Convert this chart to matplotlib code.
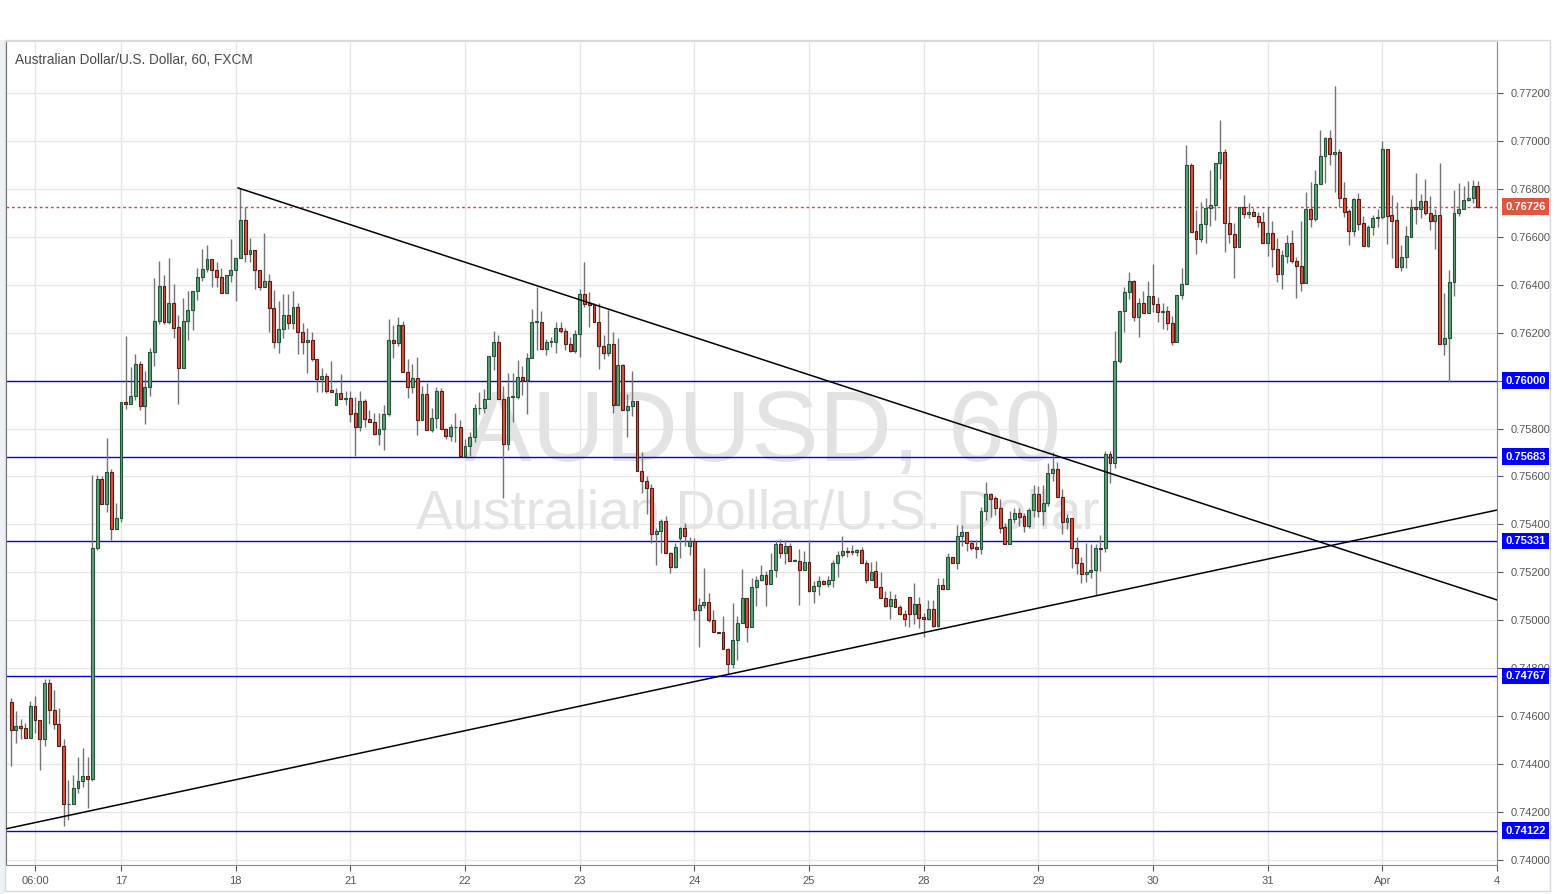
import numpy as np
import matplotlib.pyplot as plt
import matplotlib.transforms as mtransforms
from matplotlib.patches import Rectangle

# AUDUSD hourly candles (bar 0 = 17th 00:00)
opens = [
    0.74659, 0.74541, 0.74558, 0.74549, 0.74510, 0.74643, 0.74583, 0.74504, 0.74739, 0.74625, 0.74566, 0.74474,
    0.74232, 0.74232, 0.74299, 0.74330, 0.74351, 0.74337, 0.75302, 0.75590, 0.75484, 0.75619, 0.75380,
    # 17
    0.75426, 0.75910, 0.75901, 0.75935, 0.76070, 0.75896, 0.75972, 0.76120, 0.76249, 0.76395, 0.76246, 0.76323,
    0.76224, 0.76054, 0.76249, 0.76295, 0.76374, 0.76433, 0.76466, 0.76506, 0.76460, 0.76431, 0.76364, 0.76439,
    # 18
    0.76460, 0.76510, 0.76669, 0.76527, 0.76545, 0.76460, 0.76392, 0.76414, 0.76302, 0.76160, 0.76214, 0.76273,
    0.76239, 0.76307, 0.76204, 0.76160, 0.76168, 0.76092, 0.76008, 0.76018, 0.75961, 0.75900, 0.75947, 0.75925,
    # 21
    0.75928, 0.75864, 0.75808, 0.75913, 0.75841, 0.75829, 0.75779, 0.75797, 0.75862, 0.76168, 0.76158, 0.76232,
    0.76035, 0.75975, 0.76010, 0.75834, 0.75943, 0.75793, 0.75843, 0.75956, 0.75800, 0.75770, 0.75806, 0.75806,
    # 22
    0.75684, 0.75726, 0.75763, 0.75884, 0.75884, 0.75922, 0.76101, 0.76161, 0.75925, 0.75737, 0.75932, 0.75932,
    0.76014, 0.76001, 0.76093, 0.76245, 0.76245, 0.76131, 0.76160, 0.76160, 0.76218, 0.76206, 0.76151, 0.76125,
    # 23
    0.76193, 0.76361, 0.76323, 0.76316, 0.76243, 0.76145, 0.76114, 0.76152, 0.75897, 0.76064, 0.75876, 0.75893,
    0.75915, 0.75622, 0.75581, 0.75551, 0.75360, 0.75374, 0.75416, 0.75280, 0.75221, 0.75342, 0.75384, 0.75312,
    # 24
    0.75331, 0.75043, 0.75064, 0.75076, 0.75002, 0.74950, 0.74950, 0.74879, 0.74817, 0.74918, 0.74988, 0.75092,
    0.74971, 0.75138, 0.75167, 0.75188, 0.75151, 0.75209, 0.75319, 0.75280, 0.75311, 0.75249, 0.75249, 0.75208,
    # 25
    0.75245, 0.75124, 0.75144, 0.75164, 0.75151, 0.75169, 0.75241, 0.75271, 0.75289, 0.75289, 0.75286, 0.75293,
    0.75238, 0.75167, 0.75206, 0.75140, 0.75092, 0.75061, 0.75089, 0.75057, 0.75025, 0.75097, 0.75025, 0.75067,
    # 28
    0.75014, 0.75004, 0.75047, 0.74976, 0.75146, 0.75129, 0.75263, 0.75238, 0.75350, 0.75369, 0.75321, 0.75306,
    0.75299, 0.75456, 0.75527, 0.75509, 0.75467, 0.75388, 0.75317, 0.75423, 0.75447, 0.75435, 0.75395, 0.75460,
    # 29
    0.75527, 0.75454, 0.75488, 0.75613, 0.75630, 0.75513, 0.75412, 0.75426, 0.75301, 0.75237, 0.75193, 0.75200,
    0.75210, 0.75300, 0.75300, 0.75693, 0.75658, 0.76082, 0.76291, 0.76369, 0.76416, 0.76267, 0.76325, 0.76281,
    # 30
    0.76353, 0.76318, 0.76285, 0.76291, 0.76239, 0.76163, 0.76357, 0.76402, 0.76900, 0.76624, 0.76592, 0.76652,
    0.76722, 0.76733, 0.76907, 0.76952, 0.76656, 0.76610, 0.76556, 0.76723, 0.76694, 0.76702, 0.76688, 0.76660,
    # 31
    0.76573, 0.76615, 0.76548, 0.76443, 0.76521, 0.76573, 0.76500, 0.76480, 0.76406, 0.76715, 0.76673, 0.76819,
    0.76936, 0.77011, 0.76944, 0.76952, 0.76760, 0.76707, 0.76625, 0.76757, 0.76656, 0.76563, 0.76641, 0.76678,
    # Apr
    0.76681, 0.76965, 0.76691, 0.76670, 0.76475, 0.76514, 0.76600, 0.76725, 0.76718, 0.76749, 0.76698, 0.76667,
    0.76691, 0.76151, 0.76176, 0.76410, 0.76698, 0.76718, 0.76753, 0.76760, 0.76812,
]
highs = [
    0.74677, 0.74622, 0.74588, 0.74570, 0.74663, 0.74684, 0.74583, 0.74755, 0.74755, 0.74709, 0.74633, 0.74505,
    0.74334, 0.74355, 0.74430, 0.74469, 0.74430, 0.75606, 0.75606, 0.75604, 0.75762, 0.75630, 0.75491,
    0.75910, 0.76186, 0.76057, 0.76113, 0.76082, 0.76040, 0.76135, 0.76428, 0.76499, 0.76441, 0.76512, 0.76405,
    0.76274, 0.76346, 0.76374, 0.76374, 0.76469, 0.76549, 0.76566, 0.76506, 0.76494, 0.76469, 0.76439, 0.76591,
    0.76510, 0.76803, 0.76726, 0.76594, 0.76545, 0.76460, 0.76616, 0.76444, 0.76378, 0.76332, 0.76363, 0.76363,
    0.76374, 0.76323, 0.76239, 0.76221, 0.76202, 0.76092, 0.76053, 0.76031, 0.76082, 0.75968, 0.76028, 0.75958,
    0.75958, 0.75933, 0.75956, 0.75925, 0.75877, 0.75866, 0.75866, 0.75898, 0.76256, 0.76232, 0.76265, 0.76249,
    0.76090, 0.76069, 0.76097, 0.75978, 0.75989, 0.75884, 0.75973, 0.75968, 0.75802, 0.75818, 0.75863, 0.75836,
    0.75755, 0.75784, 0.75902, 0.75953, 0.75964, 0.76101, 0.76207, 0.76192, 0.75978, 0.76033, 0.76033, 0.76086,
    0.76061, 0.76114, 0.76297, 0.76391, 0.76292, 0.76172, 0.76181, 0.76245, 0.76245, 0.76218, 0.76181, 0.76211,
    0.76382, 0.76495, 0.76370, 0.76323, 0.76325, 0.76191, 0.76295, 0.76203, 0.76177, 0.76070, 0.75943, 0.76039,
    0.75915, 0.75701, 0.75602, 0.75569, 0.75384, 0.75423, 0.75435, 0.75286, 0.75321, 0.75391, 0.75405, 0.75349,
    0.75342, 0.75092, 0.75220, 0.75113, 0.75043, 0.74953, 0.75016, 0.74883, 0.75071, 0.75016, 0.75213, 0.75095,
    0.75176, 0.75183, 0.75231, 0.75206, 0.75280, 0.75333, 0.75338, 0.75336, 0.75322, 0.75255, 0.75297, 0.75290,
    0.75336, 0.75162, 0.75183, 0.75167, 0.75185, 0.75252, 0.75289, 0.75352, 0.75307, 0.75314, 0.75297, 0.75304,
    0.75251, 0.75245, 0.75247, 0.75203, 0.75122, 0.75122, 0.75108, 0.75064, 0.75043, 0.75097, 0.75154, 0.75099,
    0.75029, 0.75085, 0.75085, 0.75178, 0.75178, 0.75279, 0.75265, 0.75397, 0.75398, 0.75369, 0.75333, 0.75335,
    0.75474, 0.75579, 0.75533, 0.75519, 0.75505, 0.75405, 0.75454, 0.75467, 0.75467, 0.75447, 0.75470, 0.75565,
    0.75561, 0.75565, 0.75658, 0.75704, 0.75662, 0.75547, 0.75442, 0.75426, 0.75349, 0.75266, 0.75324, 0.75318,
    0.75318, 0.75356, 0.75706, 0.75706, 0.76207, 0.76291, 0.76392, 0.76455, 0.76420, 0.76344, 0.76374, 0.76416,
    0.76485, 0.76350, 0.76323, 0.76312, 0.76270, 0.76357, 0.76471, 0.76983, 0.76910, 0.76712, 0.76747, 0.76761,
    0.76879, 0.76907, 0.77087, 0.76966, 0.76726, 0.76656, 0.76723, 0.76773, 0.76740, 0.76719, 0.76705, 0.76702,
    0.76726, 0.76666, 0.76594, 0.76545, 0.76608, 0.76628, 0.76517, 0.76666, 0.76787, 0.76829, 0.76879, 0.77046,
    0.77018, 0.77046, 0.77229, 0.76966, 0.76830, 0.76718, 0.76764, 0.76784, 0.76686, 0.76650, 0.76691, 0.76714,
    0.76999, 0.76965, 0.76774, 0.76746, 0.76565, 0.76645, 0.76757, 0.76867, 0.76778, 0.76841, 0.76770, 0.76718,
    0.76910, 0.76367, 0.76461, 0.76795, 0.76826, 0.76812, 0.76834, 0.76839, 0.76832,
]
lows = [
    0.74394, 0.74487, 0.74504, 0.74510, 0.74510, 0.74531, 0.74377, 0.74476, 0.74569, 0.74548, 0.74474, 0.74143,
    0.74167, 0.74232, 0.74281, 0.74306, 0.74216, 0.74328, 0.75295, 0.75484, 0.75450, 0.75335, 0.75380,
    0.75412, 0.75882, 0.75901, 0.75921, 0.75879, 0.75821, 0.75937, 0.76063, 0.76235, 0.76235, 0.76235, 0.76177,
    0.75904, 0.76054, 0.76171, 0.76210, 0.76335, 0.76416, 0.76455, 0.76390, 0.76392, 0.76364, 0.76364, 0.76410,
    0.76334, 0.76510, 0.76497, 0.76497, 0.76384, 0.76377, 0.76392, 0.76204, 0.76138, 0.76117, 0.76177, 0.76214,
    0.76214, 0.76113, 0.76113, 0.76033, 0.76082, 0.75954, 0.75954, 0.75950, 0.75954, 0.75900, 0.75925, 0.75900,
    0.75827, 0.75685, 0.75791, 0.75808, 0.75829, 0.75773, 0.75731, 0.75711, 0.75854, 0.76094, 0.76144, 0.76035,
    0.75929, 0.75950, 0.75774, 0.75834, 0.75793, 0.75786, 0.75801, 0.75800, 0.75755, 0.75750, 0.75744, 0.75684,
    0.75684, 0.75684, 0.75744, 0.75862, 0.75864, 0.75922, 0.76043, 0.75925, 0.75509, 0.75711, 0.75826, 0.75925,
    0.75940, 0.75862, 0.76093, 0.76128, 0.76131, 0.76105, 0.76142, 0.76114, 0.76197, 0.76128, 0.76121, 0.76114,
    0.76097, 0.76309, 0.76225, 0.76243, 0.76047, 0.76089, 0.76104, 0.75864, 0.75897, 0.75876, 0.75766, 0.75854,
    0.75622, 0.75530, 0.75442, 0.75321, 0.75231, 0.75280, 0.75280, 0.75196, 0.75217, 0.75259, 0.75312, 0.75273,
    0.75001, 0.74890, 0.75050, 0.74994, 0.74950, 0.74946, 0.74879, 0.74776, 0.74800, 0.74835, 0.74988, 0.74911,
    0.74971, 0.75060, 0.75162, 0.75060, 0.75151, 0.75180, 0.75259, 0.75234, 0.75249, 0.75247, 0.75064, 0.75208,
    0.75117, 0.75074, 0.75106, 0.75146, 0.75138, 0.75138, 0.75182, 0.75263, 0.75263, 0.75272, 0.75268, 0.75238,
    0.75154, 0.75167, 0.75140, 0.75092, 0.75054, 0.75004, 0.75054, 0.75022, 0.74976, 0.74973, 0.74983, 0.74969,
    0.74932, 0.75001, 0.74973, 0.74973, 0.75129, 0.75129, 0.75238, 0.75213, 0.75310, 0.75290, 0.75294, 0.75259,
    0.75277, 0.75419, 0.75429, 0.75440, 0.75366, 0.75317, 0.75317, 0.75405, 0.75394, 0.75370, 0.75384, 0.75433,
    0.75433, 0.75398, 0.75477, 0.75583, 0.75513, 0.75359, 0.75381, 0.75220, 0.75193, 0.75154, 0.75161, 0.75175,
    0.75106, 0.75207, 0.75286, 0.75574, 0.75634, 0.76072, 0.76204, 0.76339, 0.76250, 0.76183, 0.76281, 0.76281,
    0.76288, 0.76246, 0.76214, 0.76211, 0.76149, 0.76163, 0.76339, 0.76402, 0.76622, 0.76527, 0.76580, 0.76576,
    0.76645, 0.76670, 0.76840, 0.76538, 0.76576, 0.76427, 0.76556, 0.76677, 0.76677, 0.76688, 0.76642, 0.76573,
    0.76521, 0.76473, 0.76413, 0.76381, 0.76489, 0.76489, 0.76343, 0.76375, 0.76406, 0.76640, 0.76667, 0.76819,
    0.76826, 0.76900, 0.76788, 0.76726, 0.76684, 0.76565, 0.76603, 0.76628, 0.76563, 0.76556, 0.76607, 0.76642,
    0.76673, 0.76570, 0.76513, 0.76475, 0.76458, 0.76471, 0.76600, 0.76653, 0.76680, 0.76693, 0.76628, 0.76549,
    0.76151, 0.76107, 0.75995, 0.76354, 0.76686, 0.76714, 0.76750, 0.76739, 0.76721,
]
closes = [
    0.74541, 0.74558, 0.74549, 0.74510, 0.74643, 0.74583, 0.74504, 0.74739, 0.74625, 0.74566, 0.74474, 0.74232,
    0.74234, 0.74299, 0.74330, 0.74351, 0.74337, 0.75302, 0.75590, 0.75484, 0.75619, 0.75380, 0.75426,
    0.75910, 0.75901, 0.75935, 0.76070, 0.75896, 0.75972, 0.76120, 0.76249, 0.76395, 0.76246, 0.76323, 0.76221,
    0.76054, 0.76249, 0.76295, 0.76374, 0.76433, 0.76466, 0.76506, 0.76460, 0.76431, 0.76364, 0.76439, 0.76460,
    0.76510, 0.76669, 0.76527, 0.76545, 0.76460, 0.76392, 0.76414, 0.76302, 0.76160, 0.76214, 0.76273, 0.76239,
    0.76307, 0.76204, 0.76160, 0.76168, 0.76092, 0.76008, 0.76018, 0.75958, 0.75954, 0.75947, 0.75925, 0.75929,
    0.75862, 0.75808, 0.75913, 0.75841, 0.75829, 0.75779, 0.75797, 0.75862, 0.76168, 0.76158, 0.76232, 0.76035,
    0.75975, 0.76010, 0.75834, 0.75943, 0.75793, 0.75843, 0.75956, 0.75800, 0.75770, 0.75806, 0.75808, 0.75684,
    0.75726, 0.75763, 0.75884, 0.75886, 0.75922, 0.76101, 0.76161, 0.75925, 0.75737, 0.75932, 0.75933, 0.76014,
    0.76001, 0.76093, 0.76245, 0.76246, 0.76131, 0.76160, 0.76165, 0.76218, 0.76206, 0.76151, 0.76125, 0.76193,
    0.76361, 0.76318, 0.76314, 0.76243, 0.76145, 0.76114, 0.76152, 0.75897, 0.76064, 0.75876, 0.75893, 0.75915,
    0.75622, 0.75581, 0.75551, 0.75360, 0.75374, 0.75416, 0.75280, 0.75221, 0.75305, 0.75384, 0.75353, 0.75331,
    0.75043, 0.75064, 0.75076, 0.75002, 0.74950, 0.74949, 0.74879, 0.74817, 0.74918, 0.74988, 0.75092, 0.74971,
    0.75138, 0.75167, 0.75188, 0.75151, 0.75209, 0.75319, 0.75280, 0.75311, 0.75249, 0.75252, 0.75208, 0.75245,
    0.75124, 0.75144, 0.75164, 0.75151, 0.75169, 0.75241, 0.75271, 0.75289, 0.75286, 0.75286, 0.75293, 0.75238,
    0.75167, 0.75203, 0.75140, 0.75092, 0.75061, 0.75089, 0.75054, 0.75025, 0.75007, 0.75025, 0.75067, 0.75011,
    0.75004, 0.75047, 0.74976, 0.75146, 0.75129, 0.75263, 0.75238, 0.75350, 0.75369, 0.75321, 0.75303, 0.75299,
    0.75456, 0.75527, 0.75508, 0.75467, 0.75387, 0.75317, 0.75423, 0.75447, 0.75433, 0.75395, 0.75460, 0.75527,
    0.75454, 0.75488, 0.75615, 0.75630, 0.75513, 0.75412, 0.75426, 0.75301, 0.75237, 0.75192, 0.75203, 0.75210,
    0.75300, 0.75299, 0.75693, 0.75658, 0.76082, 0.76291, 0.76369, 0.76416, 0.76267, 0.76325, 0.76281, 0.76353,
    0.76318, 0.76285, 0.76291, 0.76239, 0.76163, 0.76357, 0.76402, 0.76900, 0.76622, 0.76592, 0.76652, 0.76722,
    0.76733, 0.76907, 0.76952, 0.76656, 0.76610, 0.76556, 0.76723, 0.76694, 0.76702, 0.76688, 0.76660, 0.76573,
    0.76615, 0.76548, 0.76443, 0.76524, 0.76573, 0.76500, 0.76480, 0.76406, 0.76715, 0.76673, 0.76819, 0.76936,
    0.77011, 0.76944, 0.76952, 0.76761, 0.76705, 0.76625, 0.76757, 0.76653, 0.76563, 0.76641, 0.76678, 0.76684,
    0.76965, 0.76688, 0.76667, 0.76475, 0.76515, 0.76603, 0.76725, 0.76718, 0.76749, 0.76698, 0.76667, 0.76691,
    0.76151, 0.76176, 0.76410, 0.76698, 0.76718, 0.76753, 0.76762, 0.76812, 0.76726,
]
first_bar = -23  # first candle is 01:00 on the 16th

# time axis: hour offsets from the 17th and their labels
tick_hours = [-18, 0, 24, 48, 72, 96, 120, 144, 168, 192, 216, 240, 264, 288]
tick_labels = ["06:00", "17", "18", "21", "22", "23", "24", "25", "28", "29", "30", "31", "Apr", "4"]

# horizontal support / resistance levels and last price
levels = [0.76000, 0.75683, 0.75331, 0.74767, 0.74122]
last_price = 0.76726

# trend lines as (bar, price) anchors
down_bars, down_prices = [24.5, 288.0], [0.76804, 0.75085]
up_bars, up_prices = [-24.3, 288.0], [0.74129, 0.75460]

W, H = 1555, 894
fig = plt.figure(figsize=(W / 100, H / 100), dpi=100)
fig.patch.set_facecolor("white")

# outer chart frame + left strip
fig.patches.append(Rectangle((0, 0), 5 / W, (H - 40) / H, transform=fig.transFigure,
                             facecolor="#eef1f5", edgecolor="none", zorder=0))
fig.patches.append(Rectangle((5 / W, 3 / H), (1550 - 5) / W, (H - 43) / H, transform=fig.transFigure,
                             facecolor="none", edgecolor="#d6dae0", lw=1, zorder=0))

ax = fig.add_axes([6 / W, 1 - 865 / H, (1497 - 6) / W, (865 - 41) / H])
ax.set_facecolor("white")

o = np.array(opens)
h = np.array(highs)
l = np.array(lows)
c = np.array(closes)
x = np.arange(len(c)) + first_bar
up = c >= o

ax.vlines(x, l, h, color="#737375", lw=1, zorder=3)
body_lo = np.minimum(o, c)
body_h = np.maximum(np.abs(c - o), 0.000018)
ax.bar(x[up], body_h[up], bottom=body_lo[up], width=0.62, color="#5f9f78",
       edgecolor="#225437", lw=0.8, zorder=4)
ax.bar(x[~up], body_h[~up], bottom=body_lo[~up], width=0.62, color="#d75442",
       edgecolor="#5b1a13", lw=0.8, zorder=4)

# levels
for lv in levels:
    ax.axhline(lv, color="#0000ff", lw=1, zorder=2)
ax.axhline(last_price, color="#e5412d", lw=1, ls=(0, (2, 2)), zorder=2)

# trend lines
ax.plot(down_bars, down_prices, color="black", lw=1.1, zorder=5)
ax.plot(up_bars, up_prices, color="black", lw=1.1, zorder=5)

ax.set_xlim(-24.07, 288.0)
ax.set_ylim(0.73979, 0.77417)

# watermark
ax.text(0.5075, 0.522, "AUDUSD, 60", transform=ax.transAxes, ha="center", va="center",
        fontsize=73, family="Liberation Sans", color="#e3e3e3", zorder=1)
ax.text(0.5045, 0.425, "Australian Dollar/U.S. Dollar", transform=ax.transAxes, ha="center",
        va="center", fontsize=39.5, family="Liberation Sans", color="#e3e3e3", zorder=1)
ax.text(0.006, 0.977, "Australian Dollar/U.S. Dollar, 60, FXCM", transform=ax.transAxes,
        ha="left", va="center", fontsize=9.8, family="Liberation Sans", color="#4a4a4a", zorder=6)

# axes styling; tick labels hidden where a level tag covers them
yt = np.arange(0.740, 0.7721, 0.002)
ax.set_yticks(yt)
ax.set_yticklabels(["" if any(abs(v - lv) < 0.0001 for lv in levels) else "%.5f" % v for v in yt])
ax.yaxis.tick_right()
ax.set_xticks(tick_hours)
ax.set_xticklabels(tick_labels)
ax.tick_params(axis="both", labelsize=8, colors="#555555", length=4, width=0.8)
ax.tick_params(axis="y", pad=6)
ax.tick_params(axis="x", pad=4)
for lab in ax.get_xticklabels() + ax.get_yticklabels():
    lab.set_family("Liberation Sans")
ax.grid(True, color="#e6e6e6", lw=1, zorder=0)
ax.set_axisbelow(True)
for side in ["top", "bottom", "right"]:
    ax.spines[side].set_color("#8a8a8a")
    ax.spines[side].set_linewidth(0.8)
ax.spines["left"].set_color("#5a5a5a")
ax.spines["top"].set_color("#d6dae0")

# price labels on the right axis
tr = mtransforms.blended_transform_factory(ax.transAxes, ax.transData)
for lv in levels:
    ax.text(1.0055, lv, "%.5f" % lv, transform=tr, ha="left", va="center", fontsize=8,
            fontweight="bold", family="Liberation Sans", color="white", zorder=7, clip_on=False,
            bbox=dict(boxstyle="square,pad=0.3", fc="#0000ff", ec="none"))
ax.text(1.0055, last_price, "%.5f" % last_price, transform=tr, ha="left", va="center", fontsize=8,
        fontweight="bold", family="Liberation Sans", color="white", zorder=7, clip_on=False,
        bbox=dict(boxstyle="square,pad=0.3", fc="#e0553f", ec="none"))

fig.savefig("out.png", dpi=100)
